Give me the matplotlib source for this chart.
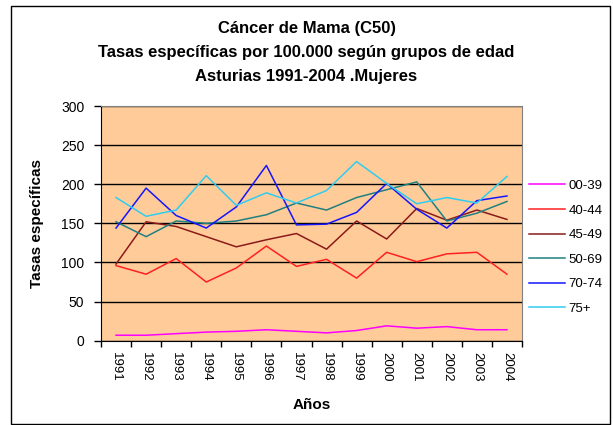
import matplotlib
matplotlib.use("Agg")
import matplotlib.pyplot as plt
from matplotlib.patches import Rectangle

years = [str(y) for y in range(1991, 2005)]
s_00_39 = [7, 7, 9, 11, 12, 14, 12, 10, 13, 19, 16, 18, 14, 14]
s_40_44 = [96, 85, 105, 75, 93, 121, 95, 104, 80, 113, 101, 111, 113, 85]
s_45_49 = [98, 152, 146, 133, 120, 129, 137, 117, 153, 130, 169, 154, 167, 155]
s_50_69 = [152, 133, 153, 150, 153, 161, 176, 167, 183, 193, 203, 153, 163, 178]
s_70_74 = [144, 195, 160, 144, 171, 224, 148, 149, 164, 201, 168, 144, 179, 185]
s_75p = [183, 159, 167, 211, 173, 189, 176, 192, 229, 201, 175, 183, 176, 210]

series_names = ["00-39", "40-44", "45-49", "50-69", "70-74", "75+"]
series_vals = [s_00_39, s_40_44, s_45_49, s_50_69, s_70_74, s_75p]
colors = ["#FF00FF", "#FF2020", "#8B1A1A", "#208080", "#1515FF", "#30CCF0"]

plt.rcParams['font.family'] = ['Liberation Sans', 'DejaVu Sans']

W, H = 613, 425
fig = plt.figure(figsize=(W / 100, H / 100), dpi=100)
fig.patch.set_facecolor("white")

# outer frame
fig.add_artist(Rectangle((11 / W, 1 - 424 / H), 599 / W, 418 / H,
                         transform=fig.transFigure, fill=False,
                         edgecolor="black", linewidth=1.0))

ax = fig.add_axes([101 / W, 1 - 340.7 / H, 421 / W, 234.7 / H])
ax.set_facecolor("#FFCC99")

x = list(range(len(years)))
for name, vals, c in zip(series_names, series_vals, colors):
    ax.plot(x, vals, color=c, linewidth=1.1, label=name)

ax.set_xlim(-0.5, len(years) - 0.5)
ax.set_ylim(0, 300)
ax.set_yticks(range(0, 301, 50))
ax.yaxis.grid(True, color="black", linewidth=1.0)
ax.set_axisbelow(True)

ax.set_xticks([i - 0.5 for i in range(len(years) + 1)])
ax.set_xticklabels([])
ax.set_xticks(x, minor=True)
ax.set_xticklabels(years, minor=True, rotation=-90, fontsize=9.5)
ax.tick_params(axis='x', which='minor', length=0, pad=8)
ax.tick_params(axis='x', which='major', length=4, direction='out', width=1)
ax.tick_params(axis='y', length=5, direction='out', width=1, labelsize=10, pad=7)

for side in ["top", "right"]:
    ax.spines[side].set_color("#808080")
for side in ["left", "bottom"]:
    ax.spines[side].set_color("black")

ax.set_xlabel("Años", fontsize=11, fontweight="bold", labelpad=12)
ax.set_ylabel("Tasas específicas", fontsize=11, fontweight="bold", labelpad=12)

fig.text(0.5, 1 - 28 / H, "Cáncer de Mama (C50)", ha="center", va="center",
         fontsize=12, fontweight="bold")
fig.text(0.5, 1 - 53 / H, "Tasas específicas por 100.000 según grupos de edad",
         ha="center", va="center", fontsize=12, fontweight="bold")
fig.text(0.5, 1 - 77 / H, "Asturias 1991-2004 .Mujeres", ha="center", va="center",
         fontsize=12, fontweight="bold")

leg = fig.legend(loc="upper left", bbox_to_anchor=(517 / W, 1 - 168 / H),
                 frameon=False, fontsize=9.5, handlelength=2.7,
                 labelspacing=0.93, handletextpad=0.3)

fig.savefig("out.png", dpi=100)
